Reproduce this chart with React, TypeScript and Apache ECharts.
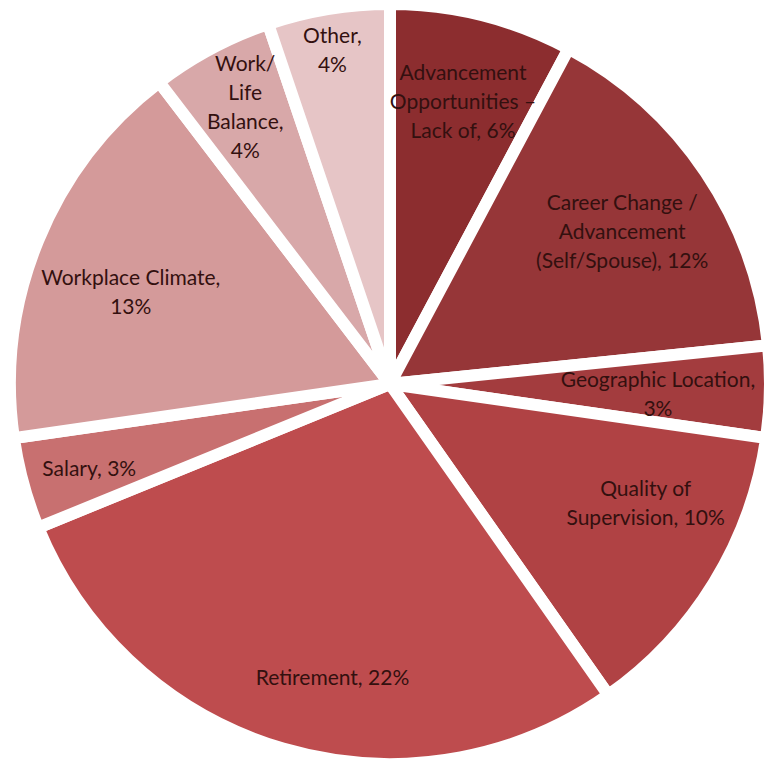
import React, { useEffect, useRef } from "react";
import * as echarts from "echarts";

const categories = [
  "Advancement Opportunities – Lack of",
  "Career Change / Advancement (Self/Spouse)",
  "Geographic Location",
  "Quality of Supervision",
  "Retirement",
  "Salary",
  "Workplace Climate",
  "Work/Life Balance",
  "Other",
];
const values = [6, 12, 3, 10, 22, 3, 13, 4, 4];
const labelTemplates = [
  "Advancement\nOpportunities –\nLack of, {v}%",
  "Career Change /\nAdvancement\n(Self/Spouse), {v}%",
  "Geographic Location,\n{v}%",
  "Quality of\nSupervision, {v}%",
  "Retirement, {v}%",
  "Salary, {v}%",
  "Workplace Climate,\n{v}%",
  "Work/\nLife\nBalance,\n{v}%",
  "Other,\n{v}%",
];
const colors = [
  "#8c2d2f",
  "#963638",
  "#a33c3e",
  "#b04244",
  "#be4c4e",
  "#c87070",
  "#d49a9a",
  "#d8a8a9",
  "#e6c5c6",
];
const labelOffsets = [
  [2, 1],
  [-11, 10],
  [-25, 3],
  [6, -35],
  [25, 11],
  [-18, 7],
  [12, 18],
  [-7, -19],
  [-10, -46],
];

export default function App() {
  const ref = useRef<HTMLDivElement>(null);
  useEffect(() => {
    document.body.style.margin = "0";
    const chart = echarts.init(ref.current!, null, { renderer: "svg" });
    const center = [390, 384];
    chart.setOption({
      animation: false,
      backgroundColor: "#ffffff",
      series: [
        {
          type: "pie",
          center,
          radius: [0, 380],
          startAngle: 90,
          clockwise: true,
          silent: true,
          label: { show: false },
          labelLine: { show: false },
          itemStyle: { borderColor: "#ffffff", borderWidth: 12 },
          data: categories.map((name, i) => ({
            name,
            value: values[i],
            itemStyle: { color: colors[i] },
          })),
        },
        {
          type: "pie",
          center,
          radius: [205, 375],
          startAngle: 90,
          clockwise: true,
          silent: true,
          itemStyle: { color: "rgba(0,0,0,0)" },
          labelLine: { show: false },
          label: {
            show: true,
            position: "inside",
            fontFamily: "Lato",
            fontSize: 21,
            lineHeight: 29,
            color: "#33100f",
            align: "center",
          },
          data: categories.map((name, i) => ({
            name,
            value: values[i],
            label: {
              formatter: labelTemplates[i].replace("{v}", String(values[i])),
              offset: labelOffsets[i],
            },
          })),
        },
      ],
    });
    return () => chart.dispose();
  }, []);
  return <div ref={ref} style={{ width: 770, height: 760 }} />;
}
